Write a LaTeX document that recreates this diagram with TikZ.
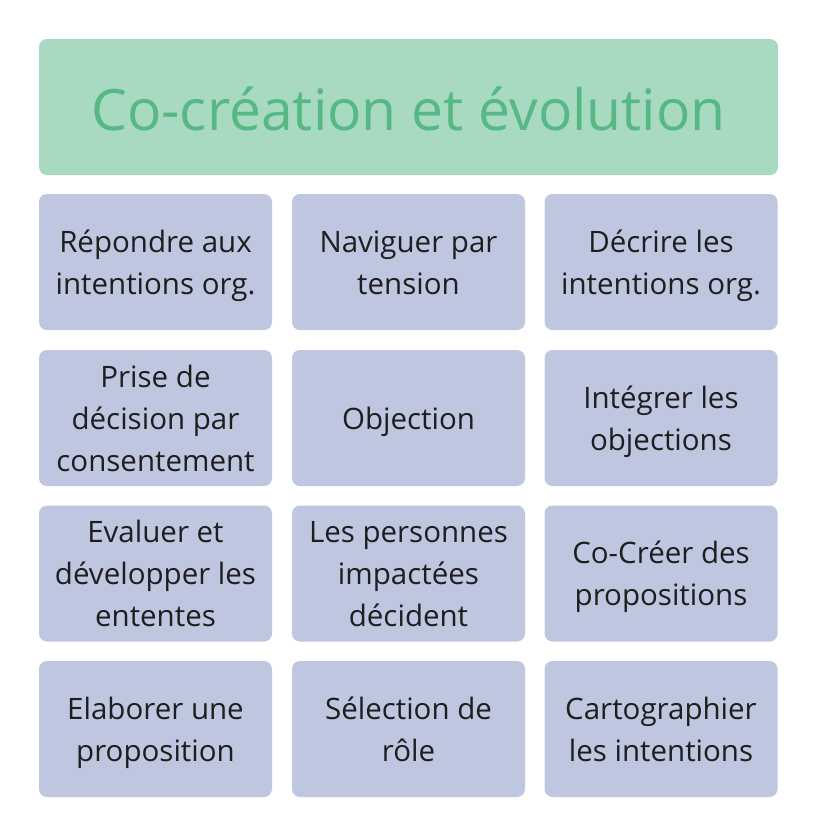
\documentclass[tikz,border=0pt]{standalone}
\usepackage{fontspec}
\setmainfont{Open Sans}
\definecolor{titlefill}{HTML}{A8D9C1}
\definecolor{titletext}{HTML}{56B985}
\definecolor{cellfill}{HTML}{BFC6E0}
\definecolor{celltext}{HTML}{1E1E1E}
% line strut: 42pt line box, baseline 32.4pt below its top
\newcommand{\lstrut}{\rule[-9.6pt]{0pt}{42pt}}
\tikzset{
  cell/.style={fill=cellfill,rounded corners=8pt,minimum width=233pt,minimum height=136pt,
    align=center,text=celltext,inner sep=0pt,font=\fontsize{29.5}{42}\selectfont},
  titlebox/.style={fill=titlefill,rounded corners=8pt,minimum width=739pt,minimum height=136pt,
    text=titletext,inner sep=0pt,text height=46pt,text depth=0pt,font=\fontsize{57}{68}\selectfont}
}
\begin{document}
\begin{tikzpicture}[x=1pt,y=-1pt]
\useasboundingbox (0,0) rectangle (816,836);
\node[titlebox] (title) at (408.5,107) {Co-création et évolution};
% row 1
\node[cell] (repondre) at (155.5,262) {\lstrut Répondre aux\\intentions org.\lstrut};
\node[cell] (naviguer) at (408.5,262) {\lstrut Naviguer par\\tension\lstrut};
\node[cell] (decrire) at (661,262) {\lstrut Décrire les\\intentions org.\lstrut};
% row 2
\node[cell] (prise) at (155.5,418) {\lstrut Prise de\\décision par\\consentement\lstrut};
\node[cell] (objection) at (408.5,418) {\lstrut Objection\lstrut};
\node[cell] (integrer) at (661,418) {\lstrut Intégrer les\\objections\lstrut};
% row 3
\node[cell] (evaluer) at (155.5,573.5) {\lstrut Evaluer et\\développer les\\ententes\lstrut};
\node[cell] (personnes) at (408.5,573.5) {\lstrut Les personnes\\impactées\\décident\lstrut};
\node[cell] (cocreer) at (661,573.5) {\lstrut Co-Créer des\\propositions\lstrut};
% row 4
\node[cell] (elaborer) at (155.5,729) {\lstrut Elaborer une\\proposition\lstrut};
\node[cell] (selection) at (408.5,729) {\lstrut Sélection de\\rôle\lstrut};
\node[cell] (carto) at (661,729) {\lstrut Cartographier\\les intentions\lstrut};
\end{tikzpicture}
\end{document}
